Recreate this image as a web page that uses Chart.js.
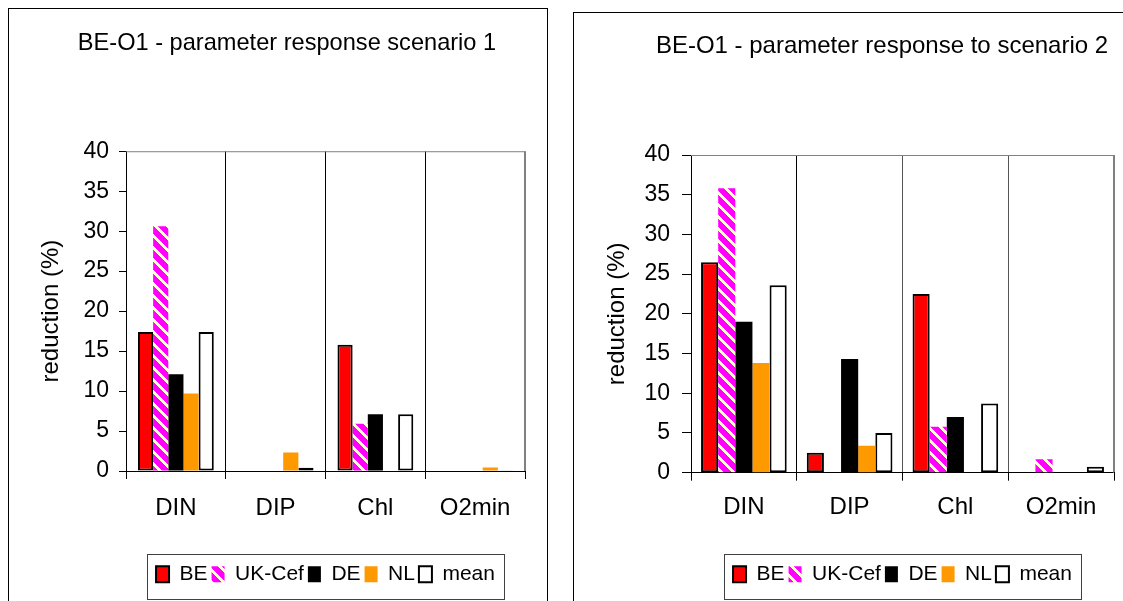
<!DOCTYPE html>
<html><head><meta charset="utf-8">
<script src="https://cdn.jsdelivr.net/npm/chart.js@4.4.0/dist/chart.umd.min.js"></script>
<style>
html,body{margin:0;padding:0;background:#fff;overflow:hidden;}
body{width:1123px;height:601px;position:relative;overflow:hidden;}
.frame{position:absolute;border:1px solid #000;box-sizing:border-box;}
#f1{left:8px;top:8px;width:540px;height:700px;}
#f2{left:573px;top:12px;width:600px;height:700px;}
canvas{position:absolute;top:0;}
#c1{left:0;}
#c2{left:560px;}
</style></head>
<body>
<div class="frame" id="f1"></div><div class="frame" id="f2"></div>
<canvas id="c1" width="560" height="601"></canvas>
<canvas id="c2" width="580" height="601"></canvas>
<script>
// ---- data ----
const categories = ['DIN', 'DIP', 'Chl', 'O2min'];
const seriesNames = ['BE', 'UK-Cef', 'DE', 'NL', 'mean'];
const yTickValues = [0, 5, 10, 15, 20, 25, 30, 35, 40];
const title1 = 'BE-O1 - parameter response scenario 1';
const title2 = 'BE-O1 - parameter response to scenario 2';
const yAxisTitle = 'reduction (%)';

// scenario 1
const s1_BE   = [17.4, 0, 15.8, 0];
const s1_UK   = [30.6, 0, 5.9, 0];
const s1_DE   = [12.1, 0, 7.1, 0];
const s1_NL   = [9.7, 2.3, 0, 0.45];
const s1_mean = [17.4, 0.4, 7.1, 0.1];

// scenario 2
const s2_BE   = [26.5, 2.5, 22.5, 0];
const s2_UK   = [35.8, 0, 5.8, 1.7];
const s2_DE   = [19.0, 14.3, 7.0, 0];
const s2_NL   = [13.8, 3.4, 0, 0];
const s2_mean = [23.6, 5.0, 8.7, 0.75];

// ---- styling ----
const FONT = 'Liberation Sans, Arial, Helvetica, sans-serif';
Chart.defaults.font.family = FONT;
Chart.defaults.color = '#000';

function makePattern() {
  const c = document.createElement('canvas');
  c.width = 12; c.height = 12;
  const x = c.getContext('2d');
  x.fillStyle = '#FF00FF'; x.fillRect(0, 0, 12, 12);
  x.fillStyle = '#FFFFCC';
  for (let i = 0; i < 12; i++) for (let j = 0; j < 12; j++) {
    if ((((i - j) % 12) + 12) % 12 < 4) x.fillRect(i, j, 1, 1);
  }
  return x.createPattern(c, 'repeat');
}
const ukPattern = makePattern();

function makeDatasets(be, uk, de, nl, mean) {
  const vals = [be, uk, de, nl, mean];
  const fills = ['#FF0000', ukPattern, '#000000', '#FF9900', '#FFFFFF'];
  const borders = [2, 0, 0, 0, 2];
  return seriesNames.map((n, i) => ({
    label: n, data: vals[i], backgroundColor: fills[i],
    borderColor: '#000', borderWidth: borders[i], borderSkipped: false,
    yAxisID: 'y'
  }));
}

const plotFrame = {
  id: 'plotFrame',
  afterDatasetsDraw(chart) {
    const {ctx, chartArea: a} = chart;
    ctx.save();
    ctx.strokeStyle = '#808080'; ctx.lineWidth = 1;
    ctx.beginPath();
    ctx.moveTo(a.left, a.top + 0.5); ctx.lineTo(a.right, a.top + 0.5);
    ctx.moveTo(a.right - 0.5, a.top); ctx.lineTo(a.right - 0.5, a.bottom);
    ctx.stroke();
    ctx.restore();
  }
};
const legendFrame = {
  id: 'legendFrame',
  afterDraw(chart) {
    const hb = chart.legend.legendHitBoxes;
    if (!hb || !hb.length) return;
    let l = Infinity, r = -Infinity, t = Infinity, b = -Infinity;
    hb.forEach(h => { l = Math.min(l, h.left); r = Math.max(r, h.left + h.width); t = Math.min(t, h.top); b = Math.max(b, h.top + h.height); });
    const ctx = chart.ctx;
    ctx.save();
    ctx.strokeStyle = '#404040'; ctx.lineWidth = 1;
    ctx.strokeRect(Math.round(l - 9) + 0.5, Math.round(t - 10) + 0.5, Math.round(r - l + 18), Math.round(b - t + 24));
    ctx.restore();
  }
};

function build(id, cfg) {
  const scales = {
    x: {
      offset: true,
      grid: { offset: true, drawOnChartArea: true, drawTicks: true, tickLength: 8, lineWidth: 1,
              color: (c) => (c.index === undefined ? '#808080' : cfg.divColors[c.index]), tickColor: '#000' },
      border: { display: true, color: '#000', width: 1 },
      ticks: { color: '#000', font: { size: 24 }, padding: cfg.xPad, maxRotation: 0 },
      afterFit: (s) => { s.height = cfg.xH; }
    },
    y: {
      position: 'left',
      min: 0, max: 40,
      afterBuildTicks: (s) => { s.ticks = yTickValues.map(v => ({ value: v })); },
      ticks: { color: '#000', font: { size: 23 }, padding: cfg.yPad },
      grid: { drawOnChartArea: false, drawTicks: true, tickLength: cfg.yTl, tickColor: '#000' },
      border: { display: true, color: '#000', width: 1 },
      title: { display: true, text: yAxisTitle, color: '#000', font: { size: 24 },
               padding: { top: cfg.yTitlePad, bottom: 0 } },
      afterFit: (s) => { s.width = cfg.yW; }
    }
  };
  if (cfg.rightGap) {
    // empty spacer on the right so that the (full-width) title is centred like the original
    scales.gap = {
      position: 'right', display: true, min: 0, max: 40,
      grid: { display: false, drawTicks: false }, border: { display: false },
      ticks: { display: false },
      afterFit: (s) => { s.width = cfg.rightGap; }
    };
  }
  return new Chart(document.getElementById(id), {
    type: 'bar',
    data: { labels: categories, datasets: cfg.datasets },
    options: {
      responsive: false, animation: false, devicePixelRatio: 1,
      layout: { padding: { left: cfg.padL, right: cfg.padR, top: 0, bottom: cfg.padB } },
      datasets: { bar: { categoryPercentage: cfg.catPct, barPercentage: 1.0 } },
      plugins: {
        title: { display: true, text: cfg.title, color: '#000',
                 font: { size: cfg.titleSize, weight: 'normal', lineHeight: 1.2 },
                 padding: { top: cfg.titleTop, bottom: cfg.titleBottom } },
        legend: { position: 'bottom', fullSize: false,
                  labels: { font: { size: 21 }, color: '#000', boxWidth: 13, boxHeight: 16, padding: 4 } },
        tooltip: { enabled: false }
      },
      scales: scales
    },
    plugins: [plotFrame, legendFrame]
  });
}

build('c1', {
  datasets: makeDatasets(s1_BE, s1_UK, s1_DE, s1_NL, s1_mean),
  title: title1, titleSize: 23.6, padL: 49, padR: 35, padB: 6.3, yW: 77, yTitlePad: -12.2,
  titleTop: 29.3, titleBottom: 93.6, xH: 88.7, xPad: 14.6, yPad: 10, yTl: 7,
  catPct: 0.76, divColors: ['#000', '#000', '#000', '#000'], rightGap: 0
});
build('c2', {
  datasets: makeDatasets(s2_BE, s2_UK, s2_DE, s2_NL, s2_mean),
  title: title2, titleSize: 24, padL: 78, padR: 14, padB: 6.3, yW: 53, yTitlePad: -35.2,
  titleTop: 31.6, titleBottom: 94.6, xH: 87, xPad: 12.4, yPad: 12, yTl: 9,
  catPct: 0.81, divColors: ['#000', '#000', '#555', '#555'], rightGap: 12
});
</script>
</body></html>
